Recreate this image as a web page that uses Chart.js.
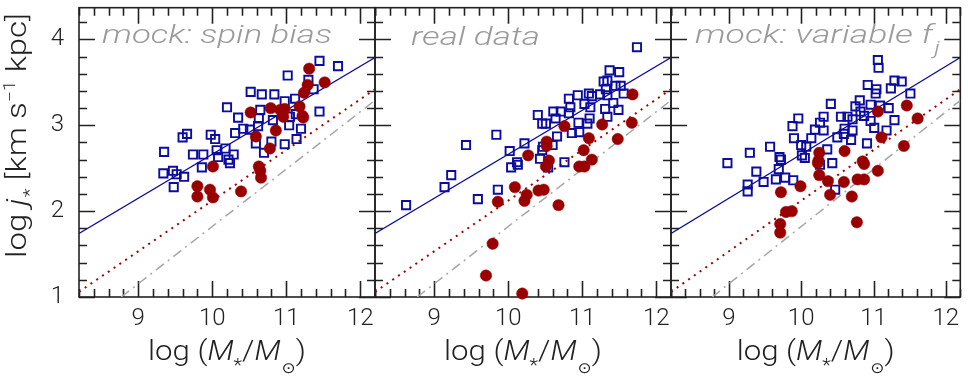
<!DOCTYPE html>
<html>
<head>
<meta charset="utf-8">
<script src="https://cdn.jsdelivr.net/npm/chart.js@4.4.1/dist/chart.umd.min.js"></script>
<style>
    html, body { margin: 0; padding: 0; background: #fff; }
    #wrap { position: relative; width: 968px; height: 377px; }
    canvas { position: absolute; left: 0; top: 0; }
</style>
</head>
<body>
<div id="wrap">
    <canvas id="spinChart" width="968" height="377"></canvas>
    <canvas id="realChart" width="968" height="377"></canvas>
    <canvas id="fjChart" width="968" height="377"></canvas>
</div>
<script>
// axis ranges and ticks
const xMin = 8.2, xMax = 12.2;
const yMin = 1, yMax = 4.37;
const xTicks = [9, 10, 11, 12];
const yTicks = [1, 2, 3, 4];

// reference relations (same in every panel)
const fitBlue = [[8.2, 1.74], [12.2, 3.79]];
const fitRed = [[8.2, 1.06], [12.2, 3.42]];
const fitGray = [[8.77, 1.0], [12.2, 3.29]];

// panel 1: mock, spin bias
const spinBlue = [[11.45,3.75],[11.70,3.69],[11.02,3.58],[11.30,3.53],[11.37,3.42],[10.52,3.39],[10.67,3.36],[10.84,3.36],
    [11.12,3.31],[10.98,3.28],[10.20,3.21],[10.65,3.18],[11.45,3.16],[10.35,3.09],[10.63,3.08],[10.82,3.06],[11.05,3.10],
    [11.13,3.13],[10.42,2.96],[10.51,2.95],[10.62,2.99],[10.31,2.91],[11.04,3.00],[11.20,2.96],[11.14,2.84],[10.98,2.78],
    [10.80,2.81],[10.59,2.79],[9.66,2.90],[9.60,2.86],[9.98,2.89],[10.04,2.84],[9.35,2.69],[9.74,2.66],[9.88,2.66],
    [10.06,2.71],[10.18,2.73],[10.08,2.63],[10.22,2.60],[10.24,2.56],[10.29,2.66],[9.86,2.51],[9.34,2.44],[9.47,2.47],
    [9.52,2.43],[9.62,2.40],[9.48,2.28],[10.70,2.68]];
const spinRed = [[11.31,3.66],[11.52,3.50],[11.29,3.47],[11.24,3.38],[11.18,3.22],[10.52,3.15],[10.79,3.20],[10.92,3.18],
    [10.98,3.19],[10.96,3.10],[11.22,3.11],[11.23,3.09],[10.86,2.94],[10.59,2.87],[10.78,2.73],[10.01,2.52],[10.63,2.52],
    [10.65,2.47],[10.66,2.39],[9.80,2.29],[9.80,2.17],[9.97,2.25],[10.01,2.16],[10.39,2.23]];

// panel 2: real data
const realBlue = [[11.74,3.91],[11.37,3.64],[11.50,3.62],[11.29,3.51],[11.34,3.52],[11.32,3.42],[11.52,3.46],[11.45,3.46],
    [11.56,3.37],[11.09,3.37],[11.13,3.34],[10.94,3.35],[10.82,3.31],[11.24,3.36],[11.34,3.35],[11.42,3.26],[11.31,3.19],
    [11.49,3.18],[11.03,3.25],[11.11,3.21],[10.84,3.21],[10.82,3.14],[10.61,3.16],[10.71,3.16],[10.40,3.12],[10.64,3.08],
    [11.10,3.08],[11.34,3.10],[10.46,3.02],[10.51,3.02],[10.95,3.03],[11.07,3.02],[10.86,2.91],[10.96,2.92],[10.66,2.87],
    [9.84,2.89],[9.43,2.77],[10.22,2.79],[10.60,2.77],[10.47,2.75],[10.46,2.71],[10.02,2.70],[10.12,2.57],[10.43,2.61],
    [10.76,2.57],[10.04,2.51],[10.13,2.54],[10.54,2.51],[9.23,2.42],[9.14,2.28],[8.62,2.07],[9.59,2.14],[9.86,2.25]];
const realRed = [[11.68,3.36],[11.67,3.03],[11.27,3.01],[10.76,2.99],[11.48,2.84],[11.09,2.85],[10.52,2.81],[10.52,2.76],
    [11.02,2.71],[10.27,2.65],[10.55,2.59],[11.13,2.60],[10.51,2.52],[10.96,2.52],[11.03,2.52],[10.09,2.28],[10.25,2.19],
    [10.22,2.12],[10.41,2.24],[10.48,2.25],[9.86,2.11],[10.68,2.07],[9.79,1.62],[9.70,1.25],[10.19,1.04]];

// panel 3: mock, variable f_j
const fjBlue = [[11.06,3.76],[11.07,3.67],[10.92,3.47],[11.04,3.42],[11.03,3.37],[11.29,3.52],[11.39,3.51],[11.24,3.43],
    [11.51,3.37],[10.41,3.25],[10.81,3.29],[10.75,3.22],[10.96,3.24],[11.09,3.23],[11.21,3.20],[10.82,3.16],[10.87,3.11],
    [10.55,3.10],[10.64,3.10],[10.71,3.07],[10.31,3.10],[9.96,3.08],[9.88,2.99],[10.26,3.03],[10.96,3.05],[11.29,3.06],
    [10.19,2.95],[10.31,2.94],[10.60,2.96],[10.71,2.94],[11.01,2.97],[11.18,2.94],[10.59,2.90],[9.90,2.85],[10.14,2.85],
    [10.50,2.86],[10.69,2.83],[10.00,2.77],[10.07,2.75],[9.57,2.75],[10.36,2.72],[10.91,2.79],[9.29,2.68],[9.70,2.63],
    [9.72,2.60],[10.01,2.65],[8.98,2.56],[10.43,2.56],[10.05,2.62],[9.38,2.46],[9.26,2.31],[9.26,2.23],[9.48,2.34],
    [9.65,2.37],[9.69,2.49],[9.78,2.39],[9.89,2.36],[10.26,2.54],[10.47,2.25]];
const fjRed = [[11.06,3.16],[11.46,3.23],[11.61,3.08],[11.11,2.86],[11.42,2.76],[10.60,2.70],[10.25,2.68],[10.24,2.59],
    [10.85,2.58],[10.23,2.56],[10.87,2.55],[11.06,2.47],[10.25,2.42],[10.37,2.35],[10.59,2.34],[10.78,2.37],[10.87,2.37],
    [9.99,2.29],[10.40,2.19],[10.70,2.17],[9.72,2.22],[9.79,1.99],[9.87,2.00],[9.71,1.85],[9.71,1.75],[10.77,1.87]];

const BLUE = '#0c0c9e';
const RED = '#990000';
const GRAY = '#a6a6a6';
const INK = '#222';
const FONT = 'Roboto';

const pts = (arr) => arr.map(([x, y]) => ({ x, y }));

// draws a run of text pieces, squeezed/stretched to a given width
function drawRich(ctx, segs, x, y, align, width) {
    let total = 0;
    segs.forEach(s => { ctx.font = s.font; s.w = ctx.measureText(s.t).width + (s.gap || 0); total += s.w; });
    const k = width ? width / total : 1;
    ctx.save();
    ctx.translate(x, y);
    ctx.scale(k, 1);
    let cx = align === 'center' ? -total / 2 : 0;
    segs.forEach(s => {
        ctx.font = s.font;
        ctx.fillText(s.t, cx, s.dy || 0);
        cx += s.w;
    });
    ctx.restore();
}

// closed frame with inward ticks on all four sides
const framePlugin = {
    id: 'frame',
    beforeDatasetsDraw(chart) {
        const { ctx, chartArea: a, scales: { x, y } } = chart;
        ctx.save();
        ctx.strokeStyle = INK;
        ctx.lineWidth = 1.6;
        ctx.beginPath();
        for (let v = xMin; v <= xMax + 1e-6; v += 0.2) {
            const px = Math.round(x.getPixelForValue(v)) + 0.5;
            const len = xTicks.some(t => Math.abs(t - v) < 1e-6) ? 16 : 8;
            ctx.moveTo(px, a.bottom); ctx.lineTo(px, a.bottom - len);
            ctx.moveTo(px, a.top); ctx.lineTo(px, a.top + len);
        }
        for (let v = yMin; v <= yMax + 1e-6; v += 0.2) {
            const py = Math.round(y.getPixelForValue(v)) + 0.5;
            const len = yTicks.some(t => Math.abs(t - v) < 1e-6) ? 16 : 8;
            ctx.moveTo(a.left, py); ctx.lineTo(a.left + len, py);
            ctx.moveTo(a.right, py); ctx.lineTo(a.right - len, py);
        }
        ctx.stroke();
        ctx.strokeRect(a.left, a.top, a.right - a.left, a.bottom - a.top);
        ctx.restore();
    }
};

// panel label and axis titles
const textPlugin = {
    id: 'texts',
    afterDraw(chart) {
        const { ctx, chartArea: a } = chart;
        const o = chart.options.plugins.texts;
        ctx.save();
        ctx.textBaseline = 'alphabetic';

        ctx.fillStyle = '#9a9a9a';
        drawRich(ctx, o.label, o.labelX, o.labelY, 'left', o.labelW);

        ctx.fillStyle = INK;
        const xt = [
            { t: 'log (', font: `300 28px ${FONT}` },
            { t: 'M', font: `italic 300 28px ${FONT}` },
            { t: '*', font: `300 18px ${FONT}`, dy: 11 },
            { t: '/', font: `300 28px ${FONT}` },
            { t: 'M', font: `italic 300 28px ${FONT}`, gap: 1 },
            { t: '\u2299', font: `15px "DejaVu Sans"`, dy: 13 },
            { t: ')', font: `300 28px ${FONT}` },
        ];
        drawRich(ctx, xt, (a.left + a.right) / 2, 360, 'center', 158);

        if (o.yTitle) {
            ctx.save();
            ctx.translate(26, 135.5);
            ctx.rotate(-Math.PI / 2);
            const yt = [
                { t: 'log ', font: `300 27px ${FONT}` },
                { t: 'j', font: `italic 300 27px ${FONT}`, gap: 1 },
                { t: '*', font: `300 17px ${FONT}`, dy: 9 },
                { t: ' [km s', font: `300 27px ${FONT}` },
                { t: '\u22121', font: `300 16px ${FONT}`, dy: -11 },
                { t: ' kpc]', font: `300 27px ${FONT}` },
            ];
            drawRich(ctx, yt, 0, 0, 'center', 245);
            ctx.restore();
        }
        ctx.restore();
    }
};

const labelFont = (size) => `italic 300 ${size}px ${FONT}`;

function makePanel(id, blue, red, label, padLeft, padRight, showY) {
    return new Chart(document.getElementById(id), {
        type: 'scatter',
        data: {
            datasets: [
                {
                    data: pts(red), pointStyle: 'circle', pointRadius: 5.7,
                    pointBackgroundColor: RED, pointBorderColor: RED, pointBorderWidth: 0.5,
                    order: 0, clip: false,
                },
                {
                    data: pts(blue), pointStyle: 'rect', pointRadius: 5.8,
                    pointBackgroundColor: 'rgba(0,0,0,0)', pointBorderColor: BLUE, pointBorderWidth: 1.9,
                    order: 1, clip: false,
                },
                {
                    data: pts(fitBlue), showLine: true, borderColor: BLUE, borderWidth: 1.4,
                    pointRadius: 0, order: 2,
                },
                {
                    data: pts(fitRed), showLine: true, borderColor: '#a00000', borderWidth: 2,
                    borderDash: [2, 5], pointRadius: 0, order: 3,
                },
                {
                    data: pts(fitGray), showLine: true, borderColor: GRAY, borderWidth: 1.5,
                    borderDash: [10, 5, 2, 5], pointRadius: 0, order: 4,
                },
            ],
        },
        options: {
            responsive: false,
            animation: false,
            events: [],
            layout: { padding: { left: padLeft, right: padRight, top: 2, bottom: 0 } },
            plugins: {
                legend: { display: false },
                tooltip: { enabled: false },
                texts: { ...label, yTitle: showY },
            },
            scales: {
                x: {
                    type: 'linear', min: xMin, max: xMax,
                    afterBuildTicks: (s) => { s.ticks = xTicks.map(v => ({ value: v })); },
                    afterFit: (s) => { s.height = 80; s.paddingLeft = 0; s.paddingRight = 0; },
                    grid: { display: false, drawTicks: false },
                    border: { display: false },
                    ticks: {
                        padding: 8, color: INK, maxRotation: 0, autoSkip: false,
                        font: { family: FONT, weight: 300, size: 24 },
                    },
                },
                y: {
                    type: 'linear', min: yMin, max: yMax, display: showY,
                    afterBuildTicks: (s) => { s.ticks = yTicks.map(v => ({ value: v })); },
                    afterFit: (s) => {
                        if (showY) s.width = 79;
                        s.paddingTop = 0;
                        s.paddingBottom = 0;
                    },
                    grid: { display: false, drawTicks: false },
                    border: { display: false },
                    ticks: {
                        padding: 15, color: INK, autoSkip: false,
                        font: { family: FONT, weight: 300, size: 24 },
                    },
                },
            },
        },
        plugins: [framePlugin, textPlugin],
    });
}

makePanel('spinChart', spinBlue, spinRed, {
    label: [{ t: 'mock: spin bias', font: labelFont(25) }],
    labelX: 102, labelY: 43, labelW: 230,
}, 0, 593, true);

makePanel('realChart', realBlue, realRed, {
    label: [{ t: 'real data', font: labelFont(25) }],
    labelX: 411, labelY: 45, labelW: 129,
}, 375, 297, false);

makePanel('fjChart', fjBlue, fjRed, {
    label: [
        { t: 'mock: variable f', font: labelFont(25), gap: 1 },
        { t: 'j', font: labelFont(18), dy: 11 },
    ],
    labelX: 695, labelY: 43, labelW: 245,
}, 671, 1, false);
</script>
</body>
</html>
